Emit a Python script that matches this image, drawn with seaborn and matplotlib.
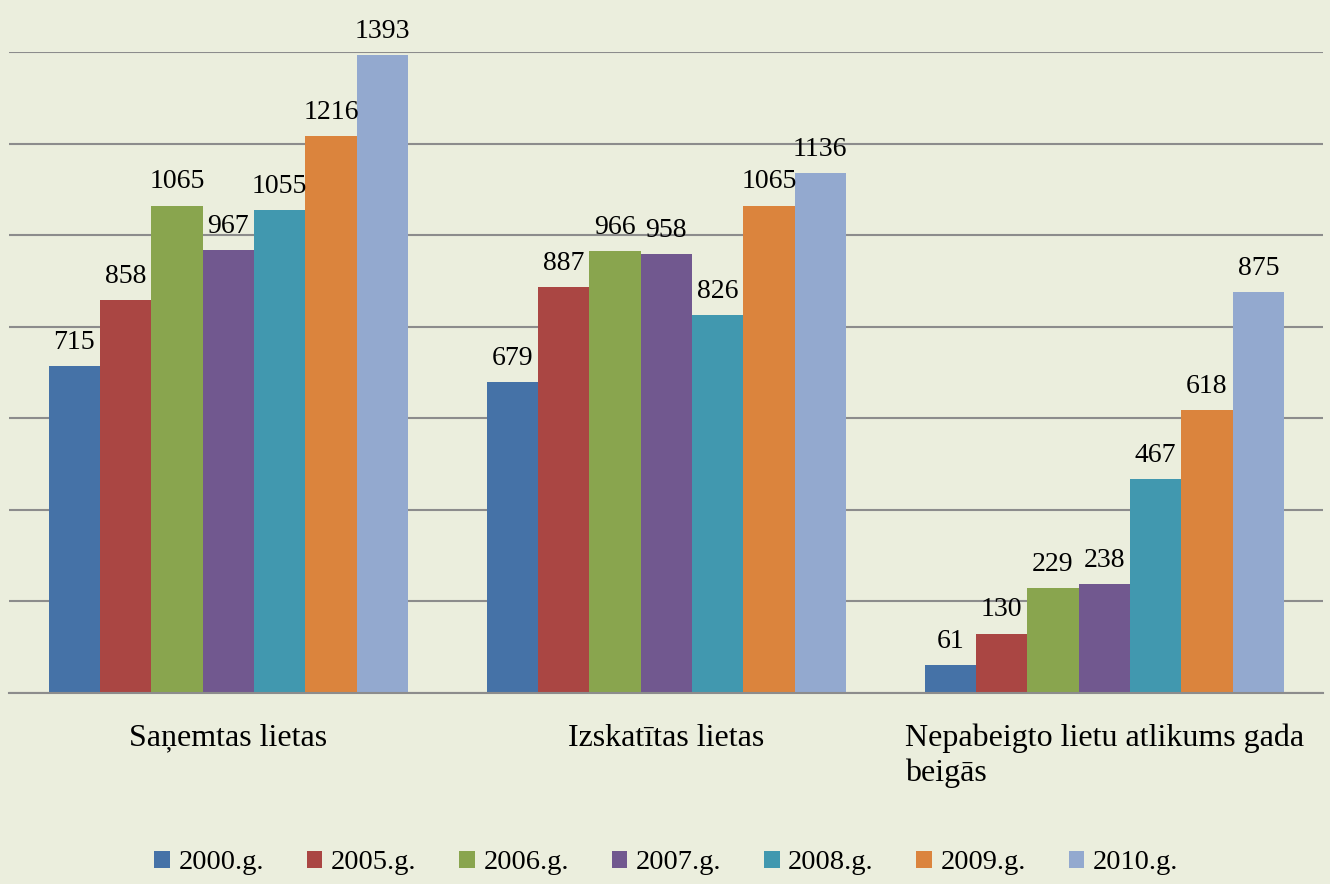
import pandas as pd
import matplotlib.pyplot as plt
import seaborn as sns

# data
categories = ['Saņemtas lietas', 'Izskatītas lietas', 'Nepabeigto lietu atlikums gada\nbeigās']
years = ['2000.g.', '2005.g.', '2006.g.', '2007.g.', '2008.g.', '2009.g.', '2010.g.']
v2000 = [715, 679, 61]
v2005 = [858, 887, 130]
v2006 = [1065, 966, 229]
v2007 = [967, 958, 238]
v2008 = [1055, 826, 467]
v2009 = [1216, 1065, 618]
v2010 = [1393, 1136, 875]
colors = ['#4572A7', '#AA4643', '#89A54E', '#71588F', '#4198AF', '#DB843D', '#93A9CF']

series = [v2000, v2005, v2006, v2007, v2008, v2009, v2010]
rows = []
for year, vals in zip(years, series):
    for cat, v in zip(categories, vals):
        rows.append({'cat': cat, 'year': year, 'value': v})
df = pd.DataFrame(rows)

bg = '#EBEEDD'
sns.set_style('white')
plt.rcParams['font.family'] = ['Liberation Serif', 'DejaVu Serif']
plt.rcParams['text.color'] = 'black'
plt.rcParams['xtick.labelcolor'] = 'black'

fig = plt.figure(figsize=(13.3, 8.84), dpi=100, facecolor=bg)
ax = fig.add_axes([0.007, 0.216, 0.988, 0.725])
ax.set_facecolor(bg)

sns.barplot(data=df, x='cat', y='value', hue='year', palette=colors,
            width=0.82, saturation=1, linewidth=0, ax=ax, legend=True)

for c in ax.containers:
    ax.bar_label(c, padding=8, fontsize=20, color='black')

ax.set_ylim(0, 1400)
ax.set_xlim(-0.5, 2.5)
ax.set_yticks(range(0, 1401, 200))
ax.set_yticklabels([])
ax.tick_params(axis='y', length=0)
ax.grid(axis='y', color='#8C8C8C', linewidth=1.5)
ax.set_axisbelow(True)

ax.set_xticks([0, 1, 2])
ax.set_xticklabels(categories, fontsize=23, color='black', linespacing=1.25,
                   multialignment='left', va='top')
ax.set_xticks([-0.5, 0.5, 1.5, 2.5], minor=True)
ax.tick_params(axis='x', which='minor', length=10, color='#8C8C8C', width=1.2)
ax.tick_params(axis='x', which='major', length=0, pad=22)
ax.set_xlabel('')
ax.set_ylabel('')

for s in ['top', 'right', 'left']:
    ax.spines[s].set_visible(False)
ax.spines['bottom'].set_color('#8C8C8C')
ax.spines['bottom'].set_linewidth(1.5)

leg = ax.legend(loc='center', bbox_to_anchor=(0.5, -0.265), ncol=7, frameon=False,
                fontsize=20.5, handlelength=0.55, handleheight=0.55, handletextpad=0.3,
                columnspacing=1.5)
for t in leg.get_texts():
    t.set_color('black')

fig.savefig('out.png', dpi=100, facecolor=bg)
